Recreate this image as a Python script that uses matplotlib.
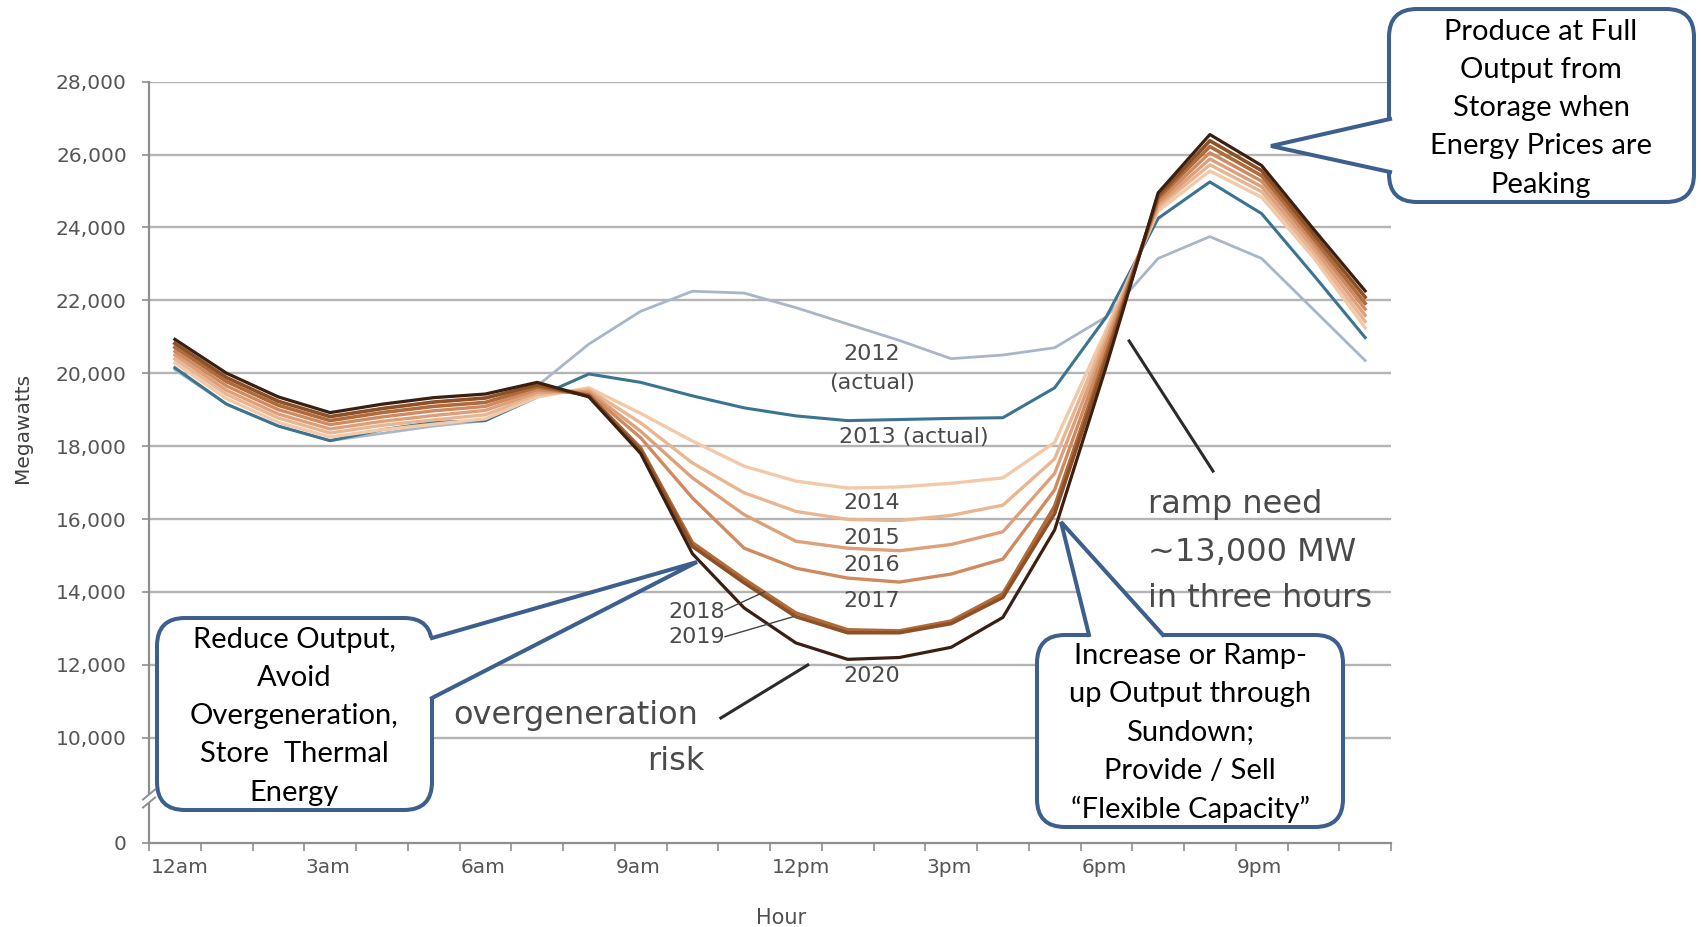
import matplotlib
matplotlib.use("Agg")
import matplotlib.pyplot as plt
from matplotlib.patches import FancyBboxPatch, Polygon, Rectangle
from matplotlib.lines import Line2D
from matplotlib.transforms import IdentityTransform, ScaledTranslation

W, H, DPI = 1701, 927, 100

# ---------------- data ----------------
hour_mid = [0.5, 1.5, 2.5, 3.5, 4.5, 5.5, 6.5, 7.5, 8.5, 9.5, 10.5, 11.5,
            12.5, 13.5, 14.5, 15.5, 16.5, 17.5, 18.5, 19.5, 20.5, 21.5, 22.5, 23.5]

mw_2012 = [20100, 19150, 18550, 18150, 18350, 18550, 18700, 19650, 20800, 21700, 22250, 22200,
           21800, 21350, 20900, 20400, 20500, 20700, 21550, 23150, 23750, 23150, 21750, 20350]
mw_2013 = [20150, 19150, 18550, 18150, 18450, 18650, 18700, 19350, 19980, 19750, 19380, 19050,
           18830, 18700, 18730, 18760, 18780, 19600, 21550, 24250, 25250, 24380, 22700, 20980]
mw_2014 = [20280, 19300, 18650, 18250, 18450, 18600, 18750, 19350, 19600, 18900, 18140, 17450,
           17040, 16850, 16880, 16980, 17130, 18100, 21200, 24450, 25550, 24830, 23180, 21250]
mw_2015 = [20390, 19420, 18770, 18360, 18570, 18720, 18860, 19420, 19550, 18640, 17540, 16720,
           16210, 15990, 15960, 16100, 16380, 17650, 21050, 24550, 25720, 24980, 23310, 21420]
mw_2016 = [20500, 19530, 18880, 18470, 18680, 18840, 18980, 19480, 19500, 18410, 17130, 16120,
           15390, 15200, 15130, 15300, 15650, 17250, 20900, 24620, 25880, 25120, 23440, 21590]
mw_2017 = [20600, 19650, 19000, 18590, 18800, 18970, 19090, 19550, 19450, 18230, 16580, 15200,
           14650, 14380, 14270, 14490, 14900, 16800, 20750, 24700, 26050, 25270, 23570, 21760]
mw_2018 = [20710, 19770, 19120, 18700, 18920, 19090, 19200, 19620, 19400, 17950, 15350, 14350,
           13420, 12960, 12930, 13200, 13950, 16350, 20550, 24800, 26220, 25420, 23700, 21920]
mw_2019 = [20820, 19880, 19230, 18810, 19030, 19210, 19320, 19680, 19380, 17880, 15250, 14250,
           13320, 12880, 12880, 13130, 13850, 16150, 20400, 24870, 26380, 25560, 23830, 22090]
mw_2020 = [20930, 20000, 19350, 18920, 19150, 19330, 19430, 19750, 19350, 17800, 15050, 13560,
           12600, 12150, 12200, 12480, 13300, 15700, 20200, 24950, 26550, 25700, 23960, 22260]

series_values = [mw_2012, mw_2013, mw_2014, mw_2015, mw_2016, mw_2017, mw_2018, mw_2019, mw_2020]
series_colors = ["#a9b6c9", "#3b7491", "#f2caa9", "#e9b692", "#dea07a", "#cf8a60",
                 "#b06b3a", "#8e5026", "#3b2012"]
series_widths = [2.0, 2.2, 2.4, 2.4, 2.4, 2.4, 2.6, 2.6, 2.3]

y_tick_values = [0, 10000, 12000, 14000, 16000, 18000, 20000, 22000, 24000, 26000, 28000]
y_tick_labels = ["0", "10,000", "12,000", "14,000", "16,000", "18,000", "20,000",
                 "22,000", "24,000", "26,000", "28,000"]
x_tick_hours = [0, 3, 6, 9, 12, 15, 18, 21]
x_tick_labels = ["12am", "3am", "6am", "9am", "12pm", "3pm", "6pm", "9pm"]

ZERO_POS = 7110     # broken axis: where "0" sits
BREAK_POS = 8330    # the // break mark

GRID = "#b4b4b4"
AXC = "#8f8f8f"
TXT = "#4a4a4a"
BLUE = "#3c5f8e"

# ---------------- figure ----------------
fig = plt.figure(figsize=(W / DPI, H / DPI), dpi=DPI)
ax = fig.add_axes([149 / W, 84 / H, 1242 / W, 761.3 / H])
ax.set_xlim(0, 24)
ax.set_ylim(ZERO_POS, 28000)

for v in y_tick_values[1:]:
    ax.axhline(v, color=GRID, lw=1.7, zorder=1)

for vals, c, lw in zip(series_values, series_colors, series_widths):
    ax.plot(hour_mid, vals, color=c, lw=lw, solid_joinstyle="round", zorder=3)

for s in ["top", "right"]:
    ax.spines[s].set_visible(False)
for s in ["left", "bottom"]:
    ax.spines[s].set_color(AXC)
    ax.spines[s].set_linewidth(1.6)

ax.set_yticks([ZERO_POS if v == 0 else v for v in y_tick_values])
ax.set_yticklabels(y_tick_labels)
ax.tick_params(axis="y", direction="out", length=5, width=1.2, color=AXC, pad=11,
               labelsize=14.5, labelcolor="#555555")
ax.set_xticks(list(range(25)))
ax.set_xticklabels([x_tick_labels[x_tick_hours.index(h)] if h in x_tick_hours else ""
                    for h in range(25)])
ax.tick_params(axis="x", direction="out", length=6, width=1.2, color=AXC, pad=5,
               labelsize=14.5, labelcolor="#555555")
off = ScaledTranslation(1 / 72, 0, fig.dpi_scale_trans)
for lbl in ax.get_xticklabels():
    lbl.set_ha("left")
    lbl.set_transform(lbl.get_transform() + off)

# axis titles
fig.text(22 / W, 1 - 428 / H, "Megawatts", rotation=90, ha="center", va="center",
         fontsize=14.5, color="#404040")
fig.text(781 / W, 1 - 918 / H, "Hour", ha="center", va="center", fontsize=15, color="#505050")

# break mark on the y axis
bx, by = ax.transData.transform((0, BREAK_POS))
fig.add_artist(Rectangle((bx - 4, by - 4), 8, 8, transform=IdentityTransform(),
                         facecolor="white", edgecolor="none", zorder=5))
for d in (-4, 4):
    fig.add_artist(Line2D([bx - 6, bx + 6], [by + d - 5, by + d + 5], transform=IdentityTransform(),
                          color=AXC, lw=1.4, zorder=6))

# series labels
lab_kw = dict(fontsize=16, color=TXT, ha="center", va="center", zorder=4)
ax.text(13.97, 20528, "2012", **lab_kw)
ax.text(13.97, 19733, "(actual)", **lab_kw)
ax.text(14.78, 18251, "2013 (actual)", **lab_kw)
ax.text(13.97, 16426, "2014", **lab_kw)
ax.text(13.97, 15480, "2015", **lab_kw)
ax.text(13.97, 14738, "2016", **lab_kw)
ax.text(13.97, 13751, "2017", **lab_kw)
ax.text(13.97, 11693, "2020", **lab_kw)
ax.text(10.59, 13449, "2018", **lab_kw)
ax.text(10.59, 12763, "2019", **lab_kw)
ax.plot([11.13, 11.90], [13504, 14006], color="#444444", lw=1.0, zorder=4)
ax.plot([11.13, 12.45], [12771, 13320], color="#444444", lw=1.0, zorder=4)

# big annotations
big_kw = dict(fontsize=23, color="#4a4a4a", zorder=4)
ax.text(8.25, 10373, "overgeneration", ha="center", va="baseline", **big_kw)
ax.text(10.18, 9111, "risk", ha="center", va="baseline", **big_kw)
ax.plot([11.05, 12.73], [10540, 11995], color="#2b2b2b", lw=2.2, zorder=4)

ax.text(19.30, 16164, "ramp need", ha="left", va="baseline", **big_kw)
ax.text(19.30, 14847, "~13,000 MW", ha="left", va="baseline", **big_kw)
ax.text(19.30, 13585, "in three hours", ha="left", va="baseline", **big_kw)
ax.plot([18.94, 20.56], [20885, 17315], color="#2b2b2b", lw=2.2, zorder=4)


# ---------------- callouts (pixel coords, y from top) ----------------
def callout(x0, y0, x1, y1, base1, tip, base2, inward, lines, cx, ys):
    box = FancyBboxPatch((x0, H - y1), x1 - x0, y1 - y0,
                         boxstyle="round,pad=0,rounding_size=28",
                         transform=IdentityTransform(), facecolor="white",
                         edgecolor=BLUE, linewidth=2.9, zorder=20)
    fig.add_artist(box)
    ix, iy = inward
    wedge = [(base1[0] + ix, H - (base1[1] + iy)), (base1[0], H - base1[1]),
             (tip[0], H - tip[1]), (base2[0], H - base2[1]),
             (base2[0] + ix, H - (base2[1] + iy))]
    fig.add_artist(Polygon(wedge, closed=True, transform=IdentityTransform(),
                           facecolor="white", edgecolor="none", zorder=21))
    fig.add_artist(Line2D([base1[0], tip[0], base2[0]], [H - base1[1], H - tip[1], H - base2[1]],
                          transform=IdentityTransform(), color=BLUE, lw=2.9,
                          solid_joinstyle="miter", zorder=22))
    for s, yy in zip(lines, ys):
        fig.text(cx / W, 1 - yy / H, s, ha="center", va="center", fontsize=21,
                 family="Lato", color="black", zorder=23)


callout(1389, 9, 1694, 202, (1390, 119), (1271, 146), (1390, 172), (6, 0),
        ["Produce at Full", "Output from", "Storage when", "Energy Prices are", "Peaking"],
        1541, [32, 70, 108, 146, 185])

callout(157, 618, 432, 810, (432, 638), (697, 562), (432, 698), (-6, 0),
        ["Reduce Output,", "Avoid", "Overgeneration,", "Store  Thermal", "Energy"],
        294, [640, 678, 716, 754, 793])

callout(1037, 635, 1343, 827, (1089, 635), (1061, 522), (1163, 635), (0, 6),
        ["Increase or Ramp-", "up Output through", "Sundown;", "Provide / Sell",
         "\u201cFlexible Capacity\u201d"],
        1190, [656, 694, 732, 771, 809])

fig.savefig("out.png", dpi=DPI)
